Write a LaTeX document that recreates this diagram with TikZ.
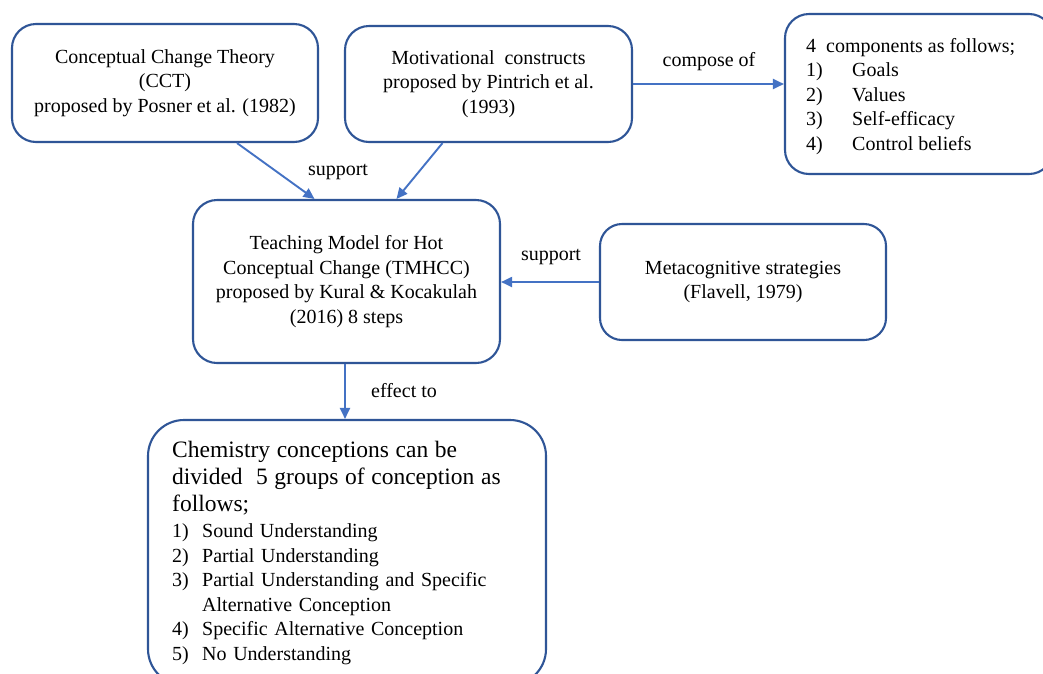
\documentclass[tikz,border=0pt]{standalone}
\usepackage{fontspec}
\setmainfont{Liberation Serif}
\usetikzlibrary{arrows.meta}
\definecolor{boxblue}{HTML}{2F5597}
\definecolor{arrowblue}{HTML}{4472C4}
\begin{document}
\begin{tikzpicture}[x=1pt,y=-1pt,
 box/.style={draw=boxblue, line width=2.1pt, rounded corners=24pt, align=center, font=\fontsize{20}{24.5}\selectfont, inner sep=0pt},
 conn/.style={draw=arrowblue, line width=1.9pt, -{Triangle[length=11pt,width=10pt]}},
 lbl/.style={font=\fontsize{20}{24.5}\selectfont, inner sep=0pt},
 listtext/.style={font=\fontsize{20}{24.5}\selectfont, inner sep=0pt, anchor=north west, align=left}]
\clip (0,0) rectangle (1043,673);
\fill[white] (0,0) rectangle (1043,673);
% boxes
\node[box, minimum width=306pt, minimum height=118pt] (cct) at (165,83) {Conceptual Change Theory\\(CCT)\\proposed by Posner et al. (1982)};
\node[box, minimum width=287pt, minimum height=116pt] (mot) at (488.5,84) {Motivational\ \ constructs\\proposed by Pintrich et al.\\(1993)};
\node[box, minimum width=268pt, minimum height=160pt] (comp) at (919,94) {};
\node[listtext] (comptext) at (806,35) {\begin{tabular}[t]{@{}p{46pt}@{}l@{}}\multicolumn{2}{@{}l@{}}{4\ \ components as follows;}\\1) & Goals\\2) & Values\\3) & Self-efficacy\\4) & Control beliefs\end{tabular}};
\node[box, minimum width=307pt, minimum height=163pt] (tm) at (346.5,281.5) {Teaching Model for Hot\\Conceptual Change (TMHCC)\\proposed by Kural \& Kocakulah\\(2016) 8 steps};
\node[box, rounded corners=22pt, minimum width=286pt, minimum height=116pt] (meta) at (743,282) {Metacognitive strategies\\(Flavell, 1979)};
\node[box, rounded corners=36pt, minimum width=398pt, minimum height=265pt] (chem) at (347,552.5) {};
\node[listtext, text width=370pt] (chemtext) at (172,441) {\fontsize{23.5}{27}\selectfont Chemistry conceptions can be\\divided\ \ 5 groups of conception as\\follows;\par\vspace{1.5pt}\fontsize{20}{24.5}\selectfont\begin{tabular}[t]{@{}p{30pt}@{}l@{}}1) & Sound Understanding\\2) & Partial Understanding\\3) & Partial Understanding and Specific\\ & Alternative Conception\\4) & Specific Alternative Conception\\5) & No Understanding\end{tabular}};
% connectors
\draw[conn] ([xshift=72pt]cct.south) -- ([xshift=-32pt]tm.north);
\draw[conn] ([xshift=-46pt]mot.south) -- ([xshift=50pt]tm.north);
\draw[conn] (mot.east) -- (comp.west |- mot.east);
\draw[conn] (meta.west) -- (tm.east |- meta.west);
\draw[conn] (tm.south -| 345,0) -- (chem.north -| 345,0);
% labels
\node[lbl] (l1) at (338,172) {support};
\node[lbl] (l2) at (709,62) {compose of};
\node[lbl] (l3) at (551,257) {support};
\node[lbl] (l4) at (404,391) {effect to};
\end{tikzpicture}
\end{document}
